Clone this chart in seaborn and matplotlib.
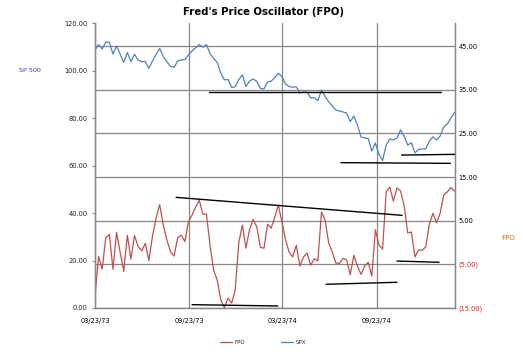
import pandas as pd
import seaborn as sns
import matplotlib.pyplot as plt
import matplotlib.dates as mdates

# weekly data, starting 03/23/73
start_date = "1973-03-23"

spx = [108.8, 111.1, 109.2, 112.1, 112.1, 107.1, 110.5, 107.1, 103.6, 107.8,
       103.9, 107.0, 104.6, 103.9, 104.0, 101.1, 104.2, 106.9, 109.5, 106.1,
       103.9, 101.9, 101.5, 104.2, 104.6, 104.8, 106.7, 108.4, 109.7, 111.1,
       110.0, 111.1, 107.3, 105.2, 103.5, 99.1, 96.2, 96.4, 93.0, 93.3,
       96.4, 98.3, 93.4, 95.7, 96.6, 95.6, 92.6, 92.4, 95.3, 95.7,
       97.1, 99.0, 97.6, 94.5, 93.4, 93.1, 93.3, 90.7, 91.1, 91.0,
       88.6, 88.7, 87.5, 91.9, 89.2, 87.0, 85.2, 83.5, 83.1, 82.7,
       82.1, 78.6, 81.0, 77.2, 72.1, 71.7, 71.5, 66.2, 69.6, 64.7,
       62.2, 68.7, 71.3, 70.9, 71.7, 75.1, 72.5, 68.7, 69.7, 65.4,
       66.9, 67.1, 67.1, 70.4, 72.2, 70.9, 72.5, 76.3, 77.6, 80.1,
       82.4]

fpo = [-12.5, -3.2, -6.1, 1.1, 1.9, -6.1, 2.3, -2.2, -6.6, 1.7,
       -3.8, 1.6, -0.9, -1.9, -0.2, -4.1, 1.5, 5.6, 8.7, 4.0,
       0.6, -2.1, -3.1, 1.1, 1.7, 0.2, 4.8, 6.3, 8.1, 9.7,
       6.5, 6.5, -0.6, -6.3, -8.6, -13.2, -14.9, -12.7, -13.9, -10.9,
       0.0, 4.0, -1.3, 3.0, 5.3, 3.6, -1.1, -1.3, 4.2, 3.3,
       5.8, 8.6, 4.7, 0.6, -2.2, -3.3, -0.6, -5.4, -3.3, -2.4,
       -5.2, -3.7, -4.2, 7.0, 5.2, -0.1, -2.2, -4.7, -4.8, -3.6,
       -4.0, -7.4, -2.9, -5.4, -7.3, -5.4, -4.5, -7.7, 2.9, -0.6,
       -1.5, 11.6, 12.7, 9.5, 12.5, 11.8, 8.4, 2.2, 2.4, -3.3,
       -1.7, -1.8, -1.0, 4.2, 6.7, 4.5, 6.7, 10.9, 11.6, 12.6,
       11.8]

# hand drawn trend lines: (start date, value, end date, value)
spx_trends = [("1973-10-31", 91.1, "1975-01-26", 91.1),
              ("1974-07-15", 61.3, "1975-02-13", 61.0),
              ("1974-11-10", 64.5, "1975-02-22", 64.8)]
fpo_trends = [("1973-08-28", 10.35, "1974-11-11", 6.23),
              ("1973-09-28", -14.24, "1974-03-14", -14.54),
              ("1974-06-16", -9.57, "1974-11-01", -9.11),
              ("1974-11-01", -4.24, "1975-01-22", -4.53)]

date_ticks = ["1973-03-23", "1973-09-23", "1974-03-23", "1974-09-23"]
spx_ticks = [0, 20, 40, 60, 80, 100, 120]
fpo_ticks = [-15, -5, 5, 15, 25, 35, 45]

dates = pd.date_range(start_date, periods=len(spx), freq="7D")
df = pd.DataFrame({"Date": dates, "SPX": spx, "FPO": fpo})

sns.set_theme(style="white")
plt.rcParams['font.family'] = ['DejaVu Sans']

grid_col = '#868686'
fig = plt.figure(figsize=(5.23, 3.59), dpi=100)
ax = fig.add_axes([0.1816, 0.1421, 0.6884, 0.7925])   # FPO, right scale
ax2 = ax.twinx()                                       # SPX, left scale

sns.lineplot(data=df, x="Date", y="FPO", ax=ax, color="#C0504D", lw=0.9)
sns.lineplot(data=df, x="Date", y="SPX", ax=ax2, color="#4F81BD", lw=0.9)

for d0, v0, d1, v1 in fpo_trends:
    ax.plot(pd.to_datetime([d0, d1]), [v0, v1], color='black', lw=1.0)
for d0, v0, d1, v1 in spx_trends:
    ax2.plot(pd.to_datetime([d0, d1]), [v0, v1], color='black', lw=1.0)

ax.set_xlim(pd.Timestamp(start_date), pd.Timestamp(start_date) + pd.Timedelta(days=701))
ax.set_ylim(-15, 50.2)
ax2.set_ylim(0, 120)

# swap sides: FPO ticks on right, SPX on left
ax.yaxis.tick_right()
ax2.yaxis.tick_left()

ax.set_xticks(pd.to_datetime(date_ticks))
ax.xaxis.set_major_formatter(mdates.DateFormatter("%m/%d/%y"))
ax.tick_params(axis='x', length=0, pad=7, labelsize=4.8, colors='black')

ax.set_yticks(fpo_ticks)
ax.set_yticklabels([f"{v:.2f}" if v >= 0 else f"({abs(v):.2f})" for v in fpo_ticks])
for lab, v in zip(ax.get_yticklabels(), fpo_ticks):
    lab.set_color('#E02020' if v < 0 else 'black')
ax.tick_params(axis='y', length=0, pad=2.5, labelsize=4.8)

ax2.set_yticks(spx_ticks)
ax2.set_yticklabels([f"{v:.2f}" for v in spx_ticks])
ax2.tick_params(axis='y', left=True, length=2.5, width=0.8, color=grid_col,
                pad=3, labelsize=4.8, labelcolor='#202020')

ax.grid(True, color=grid_col, lw=0.9)
ax2.grid(False)
for a in (ax, ax2):
    a.set_xlabel("")
    a.set_ylabel("")
    a.spines['top'].set_visible(False)
    for s in ('left', 'right', 'bottom'):
        a.spines[s].set_color(grid_col)
        a.spines[s].set_linewidth(0.9)

fig.text(0.503, 1 - 12 / 359, "Fred's Price Oscillator (FPO)", ha='center', va='center',
         fontsize=7.3, fontweight='bold', color='black')
fig.text(0.0574, 0.803, "SP 500", ha='center', va='center', fontsize=4.6, color='#3333CC')
fig.text(0.9726, 0.338, "FPO", ha='center', va='center', fontsize=5.1, color='#CC6600')

fig.legend(handles=[ax.lines[0], ax2.lines[0]], labels=["FPO", "SPX"],
           loc='center', bbox_to_anchor=(0.503, 0.047), ncol=2, frameon=False,
           fontsize=4, handlelength=2.2, handletextpad=0.4, columnspacing=6.5)

fig.savefig("out.png", dpi=100)
